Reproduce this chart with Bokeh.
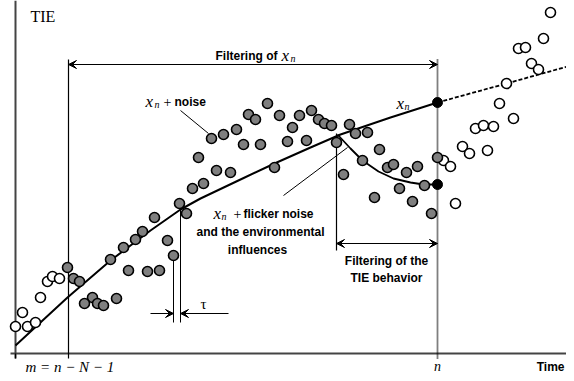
from bokeh.plotting import figure
from bokeh.models import Range1d, Arrow, VeeHead
from bokeh.core.properties import value
from bokeh.embed import file_html
from bokeh.resources import INLINE

# ---- data (time units, TIE units) ----
open_left_t = [0, 12, 20, 7, 25, 32, 37, 44]
open_left_v = [27, 27, 31, 41, 56, 72, 77, 75]

open_right_t = [428, 435, 440, 447, 454, 472, 460, 468, 478, 484, 498, 491, 516, 523, 503, 510, 528, 535]
open_right_v = [193, 187, 150, 207, 200, 203, 225, 228, 227, 250, 235, 270, 290, 284, 305, 306, 315, 341]

gray_t = [52, 58, 64, 77, 69, 82, 88, 101, 95, 108, 113, 132, 144, 120, 127, 139, 152, 158,
          164, 171, 177, 188, 183, 201, 215, 259,
          196, 208, 221, 228, 233, 240, 245, 252, 264, 272, 277, 284, 291, 296, 303, 309, 316,
          321, 334, 340, 352, 328, 347, 364, 359, 372, 378, 384, 391, 397, 402, 409, 416, 422]
gray_v = [86, 75, 72, 56, 50, 50, 48, 55, 94, 106, 83, 82, 83, 114, 122, 136, 113, 98,
          150, 140, 165, 170, 196, 183, 181, 186,
          215, 219, 224, 209, 239, 234, 209, 250, 238, 212, 226, 238, 213, 243, 234, 230, 228,
          211, 229, 220, 221, 179, 193, 204, 156, 186, 189, 165, 181, 152, 187, 168, 140, 196]

trend_t = [0, 52, 95, 135, 165, 185, 225, 259, 295, 325, 375, 422]
trend_v = [8, 56, 93, 123, 144, 155, 174, 190, 206, 219, 236, 251]

forecast_t = [422, 491, 552]
forecast_v = [251, 270, 287]

flicker_t = [322, 335, 347, 363, 378, 395, 408, 422]
flicker_v = [219, 205, 193, 182, 175, 171, 169, 169]

xn_t = [422, 422]
xn_v = [251, 169]

m_time = 53
n_time = 422

SERIF = value("Liberation Serif")
SANS = value("Liberation Sans")
BSIZE = "12px"

p = figure(width=566, height=373, x_range=Range1d(-15, 551), y_range=Range1d(-20, 353),
           output_backend="svg", toolbar_location=None, min_border=0,
           x_axis_location=None, y_axis_location=None)
p.outline_line_color = None
for g in p.grid:
    g.visible = False

# axes (drawn as plain lines)
p.segment(x0=[0, -5], y0=[-5, 0], x1=[0, 560], y1=[353, 0], line_color="#444444", line_width=2)
# axis ticks
p.segment(x0=[0], y0=[0], x1=[0], y1=[-5], line_color="black", line_width=1.2)

# left boundary (m) and right boundary (n)
p.segment(x0=[m_time], y0=[-5], x1=[m_time], y1=[294], line_color="black", line_width=1.2)
p.segment(x0=[n_time], y0=[-5], x1=[n_time], y1=[295], line_color="black", line_width=1.8,
          line_dash="1 1")

# curves
p.line(trend_t, trend_v, line_color="black", line_width=2)
p.line(forecast_t, forecast_v, line_color="black", line_width=1.8, line_dash="4 2")
p.line(flicker_t, flicker_v, line_color="black", line_width=1.8)

# tau lines
p.segment(x0=[158, 165], y0=[31, 31], x1=[158, 165], y1=[95, 144], line_color="black", line_width=1)
# filtering of TIE behavior vertical
p.segment(x0=[321], y0=[103], x1=[321], y1=[220], line_color="black", line_width=1.2)
# pointers
p.segment(x0=[165, 268], y0=[243, 158], x1=[193, 332], y1=[220, 206], line_color="black", line_width=1)

# arrows
def arr(x0, y0, x1, y1, both=False):
    a = Arrow(x_start=x0, y_start=y0, x_end=x1, y_end=y1, line_width=1.2, line_color="black",
              end=VeeHead(size=8, line_color="black", fill_color="black", line_width=1),
              start=VeeHead(size=8, line_color="black", fill_color="black", line_width=1) if both else None)
    p.add_layout(a)

arr(m_time, 289, n_time, 289, both=True)
arr(321, 110, n_time, 110, both=True)
arr(135, 40, 158, 40)
arr(213, 40, 165, 40)

# points
p.scatter(open_left_t, open_left_v, size=10, fill_color="white", line_color="black", line_width=1.6)
p.scatter(open_right_t, open_right_v, size=10, fill_color="white", line_color="black", line_width=1.6)
p.scatter(gray_t, gray_v, size=10, fill_color="#7f7f7f", line_color="black", line_width=1.6)
p.scatter(xn_t, xn_v, size=10, fill_color="black", line_color="black")

# texts
def txt(x, y, s, font, size, style="normal", align="left"):
    p.text(x=[x], y=[y], text=[s], text_font=font, text_font_size=size, text_font_style=style,
           text_align=align, text_baseline="alphabetic", text_color="black")

txt(15, 337, "TIE", SERIF, "16px")
txt(200, 298, "Filtering of", SANS, BSIZE, "bold")
txt(266, 298, "x", SERIF, "17px", "italic")
txt(275, 295, "n", SERIF, "10px", "italic")

txt(130, 252, "x", SERIF, "17px", "italic")
txt(139, 249, "n", SERIF, "10px", "italic")
txt(148, 252, "+", SERIF, "14px")
txt(159, 252, "noise", SANS, BSIZE, "bold")

txt(198, 140, "x", SERIF, "17px", "italic")
txt(206, 137, "n", SERIF, "10px", "italic")
txt(218, 140, "+", SERIF, "14px")
txt(228, 140, "flicker noise", SANS, BSIZE, "bold")
txt(245, 122, "and the environmental", SANS, BSIZE, "bold", "center")
txt(242, 104, "influences", SANS, BSIZE, "bold", "center")

txt(381, 250, "x", SERIF, "17px", "italic")
txt(389, 247, "n", SERIF, "10px", "italic")

txt(371, 93, "Filtering of the", SANS, BSIZE, "bold", "center")
txt(371, 76, "TIE behavior", SANS, BSIZE, "bold", "center")

txt(188, 50, "τ", SERIF, "15px", "normal", "center")
txt(10, -13, "m = n − N − 1", SERIF, "15px", "italic")
txt(n_time, -13, "n", SERIF, "14px", "italic", "center")
txt(549, -13, "Time", SANS, BSIZE, "bold", "right")

open("out.html", "w").write(file_html(p, INLINE))
